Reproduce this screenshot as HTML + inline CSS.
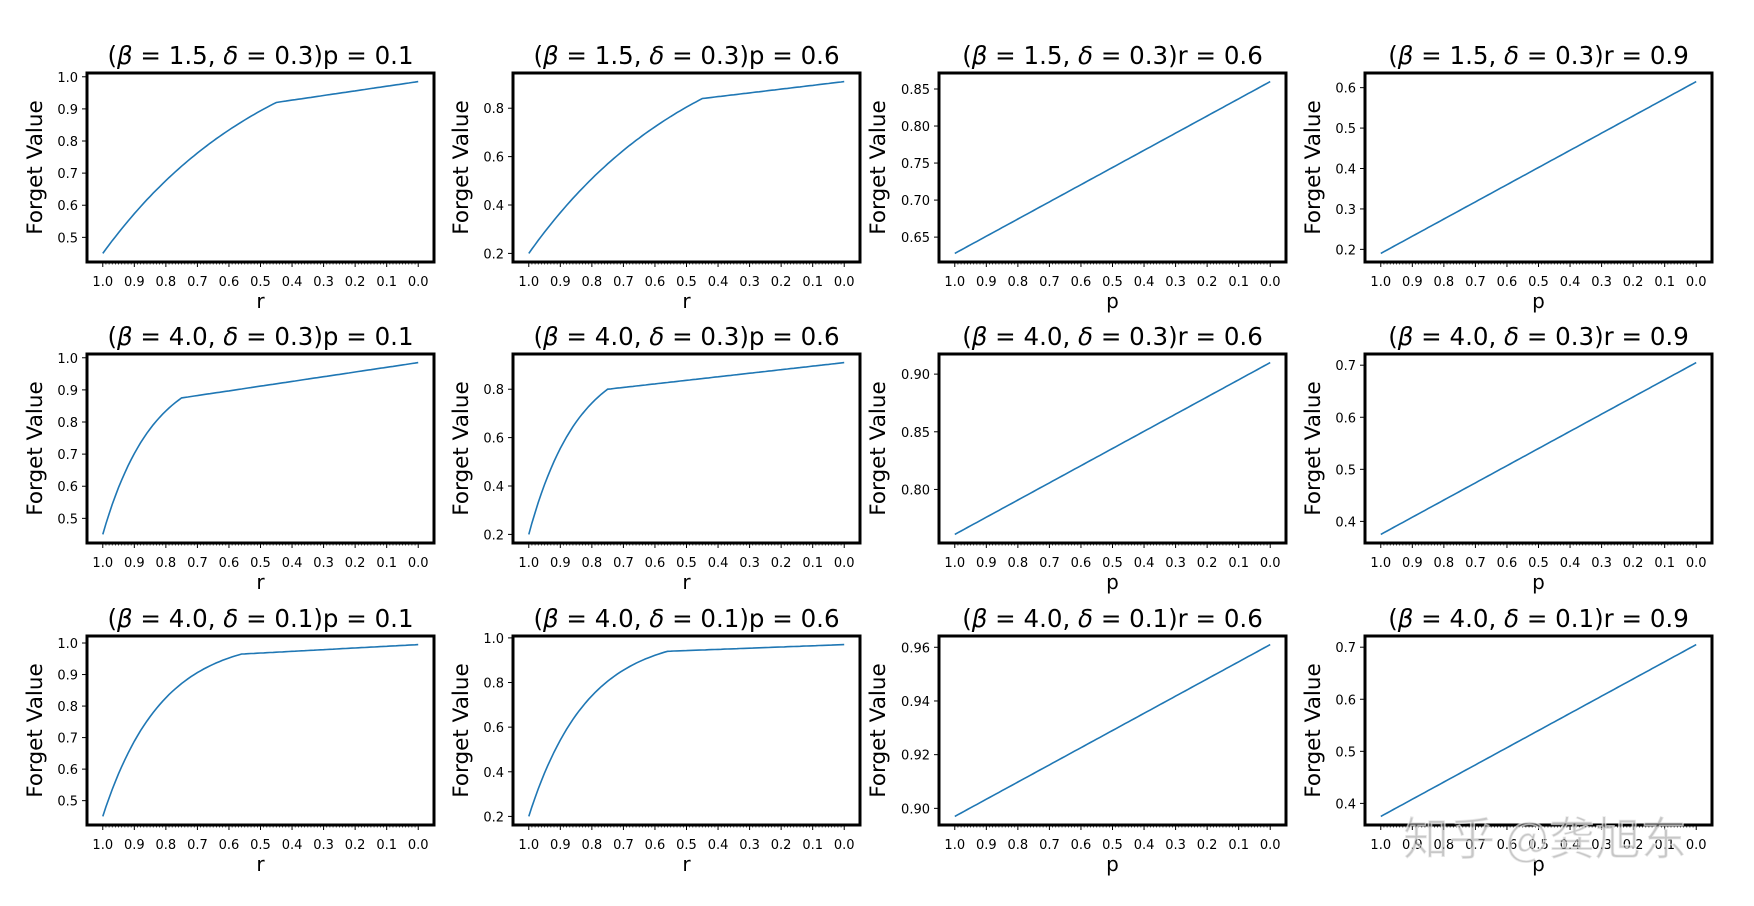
<!DOCTYPE html>
<html><head><meta charset="utf-8"><style>
html,body{margin:0;padding:0;background:#fff;}
svg{display:block;font-family:"DejaVu Sans","Liberation Sans",sans-serif;}
</style></head><body>
<svg id="s" width="1754" height="906" xmlns="http://www.w3.org/2000/svg"></svg>
<script>
const S=document.getElementById('s');
const NS='http://www.w3.org/2000/svg';
function el(t,a,txt){const e=document.createElementNS(NS,t);for(const k in a)e.setAttribute(k,a[k]);if(txt!==undefined)e.textContent=txt;S.appendChild(e);return e;}
const X=[87,513,939,1365],Y=[73,354,636],W=347,H=189;
const rowsP=[["1.5","0.3"],["4.0","0.3"],["4.0","0.1"]];
const spec=[
 [{t:'r',lab:'p = 0.1',d:[0.45,0.45,0.92,0.985,1.0],ticks:[0.5,0.6,0.7,0.8,0.9,1.0],f:1},
  {t:'r',lab:'p = 0.6',d:[0.2,0.45,0.84,0.91,1.0],ticks:[0.2,0.4,0.6,0.8],f:1},
  {t:'p',lab:'r = 0.6',d:[0.628,0.86],ticks:[0.65,0.70,0.75,0.80,0.85],f:2},
  {t:'p',lab:'r = 0.9',d:[0.19,0.615],ticks:[0.2,0.3,0.4,0.5,0.6],f:1}],
 [{t:'r',lab:'p = 0.1',d:[0.45,0.75,0.875,0.985,1.6],ticks:[0.5,0.6,0.7,0.8,0.9,1.0],f:1},
  {t:'r',lab:'p = 0.6',d:[0.2,0.75,0.80,0.91,1.6],ticks:[0.2,0.4,0.6,0.8],f:1},
  {t:'p',lab:'r = 0.6',d:[0.761,0.91],ticks:[0.80,0.85,0.90],f:2},
  {t:'p',lab:'r = 0.9',d:[0.375,0.705],ticks:[0.4,0.5,0.6,0.7],f:1}],
 [{t:'r',lab:'p = 0.1',d:[0.45,0.56,0.965,0.995,2.4],ticks:[0.5,0.6,0.7,0.8,0.9,1.0],f:1},
  {t:'r',lab:'p = 0.6',d:[0.2,0.56,0.94,0.97,2.4],ticks:[0.2,0.4,0.6,0.8,1.0],f:1},
  {t:'p',lab:'r = 0.6',d:[0.897,0.961],ticks:[0.90,0.92,0.94,0.96],f:2},
  {t:'p',lab:'r = 0.9',d:[0.375,0.705],ticks:[0.4,0.5,0.6,0.7],f:1}]
];
for(let i=0;i<3;i++)for(let j=0;j<4;j++){
 const sp=spec[i][j],x0=X[j],y0=Y[i];
 const pts=[];
 for(let n=100;n>=0;n--){const v=n/100;let y;
  if(sp.t=='p'){y=sp.d[0]+(sp.d[1]-sp.d[0])*(1-v);}
  else{const [a,kn,yk,ye,k]=sp.d;
   if(v>=kn){const t=(1-v)/(1-kn);y=a+(yk-a)*(1-Math.exp(-k*t))/(1-Math.exp(-k));}
   else y=yk+(ye-yk)*(kn-v)/kn;}
  pts.push([v,y]);}
 let mn=Math.min(...pts.map(p=>p[1])),mx=Math.max(...pts.map(p=>p[1]));
 const R=mx-mn,lo=mn-0.05*R,hi=mx+0.05*R;
 const px=v=>x0+(1.05-v)/1.1*W, py=y=>y0+H-(y-lo)/(hi-lo)*H;
 el('polyline',{points:pts.map(p=>px(p[0]).toFixed(1)+','+py(p[1]).toFixed(1)).join(' '),fill:'none',stroke:'#1f77b4','stroke-width':1.6});
 for(let n=0;n<=100;n++){const xx=px(n/100);
  el('line',{x1:xx,x2:xx,y1:y0+H,y2:y0+H+(n%10==0?5:2.5),stroke:'#000','stroke-width':n%10==0?1:0.7});}
 for(let n=0;n<=10;n++){el('text',{x:px(n/10),y:y0+H+24,'font-size':13,'text-anchor':'middle'},(n/10).toFixed(1));}
 for(const t of sp.ticks){const yy=py(t);
  el('line',{x1:x0-5,x2:x0,y1:yy,y2:yy,stroke:'#000','stroke-width':1});
  el('text',{x:x0-9,y:yy+5,'font-size':13,'text-anchor':'end'},t.toFixed(sp.f));}
 el('rect',{x:x0,y:y0,width:W,height:H,fill:'none',stroke:'#000','stroke-width':3});
 el('text',{x:x0+W/2,y:y0+H+46,'font-size':20,'text-anchor':'middle'},sp.t);
 const lx=x0-(sp.f==2?54:45);
 el('text',{x:0,y:0,'font-size':21.5,'text-anchor':'middle',transform:`translate(${lx},${y0+H/2}) rotate(-90)`},'Forget Value');
 const tt=el('text',{x:x0+W/2,y:y0-9,'font-size':24.5,'text-anchor':'middle'});
 const parts=[['(',0],['β',1],[' = '+rowsP[i][0]+', ',0],['δ',1],[' = '+rowsP[i][1]+')'+sp.lab,0]];
 for(const [s,it] of parts){const ts=document.createElementNS(NS,'tspan');ts.textContent=s;if(it)ts.setAttribute('font-style','italic');tt.appendChild(ts);}
}
el('text',{x:1545,y:855,'font-size':46,'text-anchor':'middle',fill:'#999','fill-opacity':0.55,stroke:'#fff','stroke-width':1.5,'stroke-opacity':0.6,'font-family':'"Noto Sans CJK SC",sans-serif'},'知乎 @龚旭东');
</script>
</body></html>
